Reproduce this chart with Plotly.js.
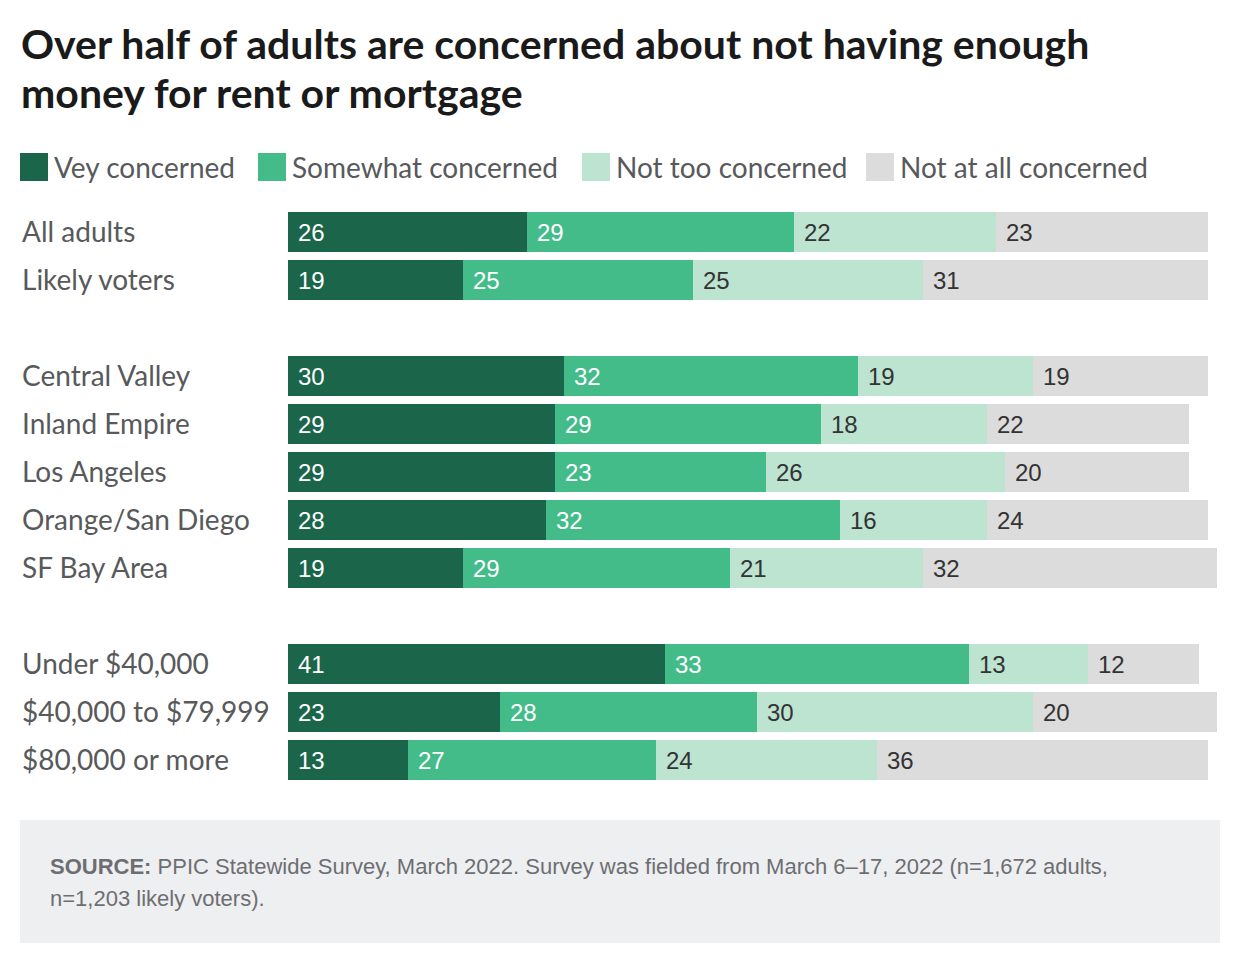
<!DOCTYPE html>
<html>
<head>
<meta charset="utf-8">
<script src="https://cdn.plot.ly/plotly-3.0.1.min.js"></script>
<style>html,body{margin:0;padding:0;background:#fff;}#chart{width:1240px;height:966px;}</style>
</head>
<body>
<div id="chart"></div>
<script>
// ---- data ----
const categories = ["All adults", "Likely voters", "Central Valley", "Inland Empire", "Los Angeles",
  "Orange/San Diego", "SF Bay Area", "Under $40,000", "$40,000 to $79,999", "$80,000 or more"];
const rowPositions = [0, 1, 3, 4, 5, 6, 7, 9, 10, 11];
const seriesNames = ["Vey concerned", "Somewhat concerned", "Not too concerned", "Not at all concerned"];
const veryConcerned      = [26, 19, 30, 29, 29, 28, 19, 41, 23, 13];
const somewhatConcerned  = [29, 25, 32, 29, 23, 32, 29, 33, 28, 27];
const notTooConcerned    = [22, 25, 19, 18, 26, 16, 21, 13, 30, 24];
const notAtAllConcerned  = [23, 31, 19, 22, 20, 24, 32, 12, 20, 36];
const titleLines = ["Over half of adults are concerned about not having enough", "money for rent or mortgage"];
const sourceLine1 = "<b>SOURCE:</b> PPIC Statewide Survey, March 2022. Survey was fielded from March 6–17, 2022 (n=1,672 adults,";
const sourceLine2 = "n=1,203 likely voters).";

// ---- styles ----
const colors = ["#1b654b", "#43bc8a", "#bde3d1", "#dcdcdc"];
const textColors = ["#ffffff", "#ffffff", "#333333", "#333333"];
const series = [veryConcerned, somewhatConcerned, notTooConcerned, notAtAllConcerned];

const W = 1240, H = 966;
const ML = 288, MR = 23, MT = 208, MB = 182;
const PW = W - ML - MR, PH = H - MT - MB;
const px = v => (v - ML) / PW;           // pixel x -> paper x
const py = v => (H - MB - v) / PH;       // pixel y -> paper y

const traces = series.map((vals, i) => ({
  type: "bar",
  orientation: "h",
  name: seriesNames[i],
  x: vals,
  y: rowPositions,
  width: 0.8333,
  marker: {color: colors[i], line: {width: 0}},
  hoverinfo: "skip",
  showlegend: false
}));

const annotations = [];
const shapes = [];

// title
const titleY = [44, 92];
titleLines.forEach((t, i) => {
  annotations.push({
    x: px(19), y: py(titleY[i]), xref: "paper", yref: "paper",
    text: "<b>" + t + "</b>", showarrow: false, xanchor: "left", yanchor: "middle",
    font: {family: "Lato, sans-serif", size: 41, color: "#1a1a1a"}
  });
});

// value labels inside bars
categories.forEach((c, r) => {
  let base = 0;
  series.forEach((vals, i) => {
    annotations.push({
      x: base, y: rowPositions[r], xref: "x", yref: "y",
      text: String(vals[r]), showarrow: false,
      xanchor: "left", yanchor: "middle", xshift: 8, yshift: 0,
      font: {family: "Liberation Sans, Arial, sans-serif", size: 24, color: textColors[i]}
    });
    base += vals[r];
  });
  // category label
  annotations.push({
    x: px(20), y: rowPositions[r], xref: "paper", yref: "y",
    text: c, showarrow: false, xanchor: "left", yanchor: "middle", yshift: 1,
    font: {family: "Lato, sans-serif", size: 28, color: "#58595b"}
  });
});

// legend
const legendSquareX = [20, 258, 582, 866];
seriesNames.forEach((n, i) => {
  shapes.push({
    type: "rect", xref: "paper", yref: "paper",
    x0: px(legendSquareX[i]), x1: px(legendSquareX[i] + 28),
    y0: py(181), y1: py(153),
    fillcolor: colors[i], line: {width: 0}
  });
  annotations.push({
    x: px(legendSquareX[i] + 32), y: py(167), xref: "paper", yref: "paper",
    text: n, showarrow: false, xanchor: "left", yanchor: "middle",
    font: {family: "Lato, sans-serif", size: 28, color: "#58595b"}
  });
});

// source box
shapes.push({
  type: "rect", xref: "paper", yref: "paper",
  x0: px(20), x1: px(1220), y0: py(943), y1: py(820),
  fillcolor: "#eeeff1", line: {width: 0}, layer: "below"
});
annotations.push({
  x: px(48), y: py(866), xref: "paper", yref: "paper", text: sourceLine1,
  showarrow: false, xanchor: "left", yanchor: "middle",
  font: {family: "Liberation Sans, Arial, sans-serif", size: 22, color: "#6d6e71"}
});
annotations.push({
  x: px(48), y: py(898), xref: "paper", yref: "paper", text: sourceLine2,
  showarrow: false, xanchor: "left", yanchor: "middle",
  font: {family: "Liberation Sans, Arial, sans-serif", size: 22, color: "#6d6e71"}
});

const layout = {
  width: W, height: H,
  margin: {l: ML, r: MR, t: MT, b: MB, pad: 0},
  paper_bgcolor: "#ffffff", plot_bgcolor: "#ffffff",
  barmode: "stack", bargap: 0,
  xaxis: {range: [0, 101], visible: false, fixedrange: true},
  yaxis: {range: [11.5, -0.5], visible: false, fixedrange: true},
  showlegend: false,
  annotations: annotations,
  shapes: shapes
};

Plotly.newPlot("chart", traces, layout, {displayModeBar: false, staticPlot: true});
</script>
</body>
</html>
